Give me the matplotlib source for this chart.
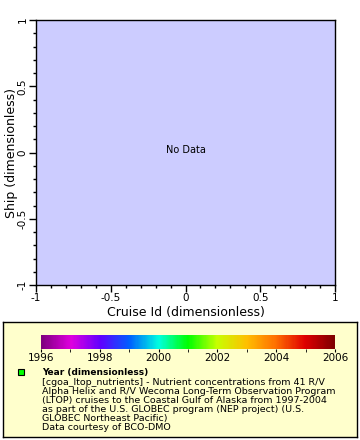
import numpy as np
import matplotlib
matplotlib.use("Agg")
import matplotlib.pyplot as plt
from matplotlib.colors import LinearSegmentedColormap
from matplotlib.ticker import MultipleLocator

# axis ranges (empty plot, no data)
x_range = [-1, 1]
y_range = [-1, 1]
x_ticks = [-1, -0.5, 0, 0.5, 1]
y_ticks = [-1, -0.5, 0, 0.5, 1]
tick_labels = ["-1", "-0.5", "0", "0.5", "1"]

# colorbar
year_min, year_max = 1996, 2006
year_ticks = [1996, 1998, 2000, 2002, 2004, 2006]
rainbow = ["#800080", "#e000e0", "#6000ff", "#0060ff", "#00ffe0", "#00ff00",
           "#c8ff00", "#ffc000", "#ff7000", "#e00000", "#800000"]

legend_lines = [
    "[cgoa_ltop_nutrients] - Nutrient concentrations from 41 R/V",
    "Alpha Helix and R/V Wecoma Long-Term Observation Program",
    "(LTOP) cruises to the Coastal Gulf of Alaska from 1997-2004",
    "as part of the U.S. GLOBEC program (NEP project) (U.S.",
    "GLOBEC Northeast Pacific)",
    "Data courtesy of BCO-DMO",
]

W, H = 360, 440
fig = plt.figure(figsize=(W / 100, H / 100), dpi=100)


def fx(px):
    return px / W


def fy(py):
    return 1 - py / H


# main axes
ax = fig.add_axes([fx(36), fy(285), fx(335 - 36), (285 - 20) / H])
ax.set_facecolor("#ccccff")
ax.set_xlim(x_range)
ax.set_ylim(y_range)
ax.set_xticks(x_ticks)
ax.set_xticklabels(tick_labels)
ax.set_yticks(y_ticks)
ax.set_yticklabels(tick_labels, rotation=90, va="center")
ax.xaxis.set_minor_locator(MultipleLocator(0.1))
ax.yaxis.set_minor_locator(MultipleLocator(0.1))
ax.tick_params(which="major", length=5, width=1, labelsize=7.5, pad=1)
ax.tick_params(which="minor", length=2.5, width=1)
for s in ax.spines.values():
    s.set_linewidth(1)
ax.set_xlabel("Cruise Id (dimensionless)", fontsize=9, labelpad=2)
ax.set_ylabel("Ship (dimensionless)", fontsize=9, labelpad=0)
ax.text(0, 0.02, "No Data", ha="center", va="center", fontsize=7)

# legend box
box = fig.add_axes([fx(3), fy(437), fx(354), 115 / H])
box.set_facecolor("#ffffcc")
box.set_xticks([])
box.set_yticks([])
for s in box.spines.values():
    s.set_linewidth(1)

# colorbar
cmap = LinearSegmentedColormap.from_list("rb", rainbow)
cax = fig.add_axes([fx(41), fy(349), fx(335 - 41), 14 / H])
grad = np.linspace(year_min, year_max, 300).reshape(1, -1)
cax.imshow(grad, aspect="auto", cmap=cmap, extent=[year_min, year_max, 0, 1])
cax.set_yticks([])
cax.set_xticks(year_ticks)
cax.xaxis.set_minor_locator(MultipleLocator(1))
cax.tick_params(which="major", length=2.5, labelsize=7.5, pad=0.5)
cax.tick_params(which="minor", length=2.5)
for s in cax.spines.values():
    s.set_visible(False)

# legend entry
fig.patches.append(plt.Rectangle((fx(18), fy(375)), fx(6), 6 / H, transform=fig.transFigure,
                                 facecolor="#00ff00", edgecolor="black", lw=0.8))
fig.text(fx(42), fy(372), "Year (dimensionless)", fontsize=6.5, fontweight="bold", va="center")
for i, line in enumerate(legend_lines):
    fig.text(fx(42), fy(382 + 9 * i), line, fontsize=6.8, va="center")

fig.savefig("out.png", dpi=100)
